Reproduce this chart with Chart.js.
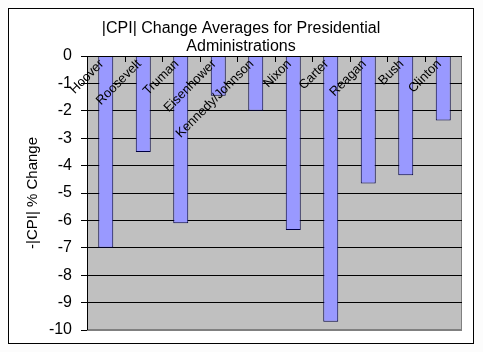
<!DOCTYPE html>
<html lang="en">
<head>
<meta charset="UTF-8">
<title>CPI Change Averages</title>
<script src="https://cdn.jsdelivr.net/npm/chart.js@4/dist/chart.umd.min.js"></script>
<style>
*{margin:0;padding:0;box-sizing:border-box}
body{background:#fcfcfc;width:483px;height:352px;overflow:hidden}
.frame{position:absolute;left:8px;top:8px;width:466px;height:336px;border:1px solid #000;background:#fff}
#c{position:absolute;left:0;top:0}
</style>
</head>
<body>
<div class="frame"></div>
<canvas id="c" width="483" height="352"></canvas>
<script>
// administrations, left to right
var presidents = ["Hoover","Roosevelt","Truman","Eisenhower","Kennedy/Johnson","Nixon","Carter","Reagan","Bush","Clinton"];
// -|CPI| % change averages
var cpiChange = [-7.0,-3.5,-6.1,-1.45,-2.0,-6.35,-9.7,-4.65,-4.35,-2.35];
var yMin = -10, yMax = 0, yStep = 1;
var titleLines = ["|CPI| Change Averages for Presidential","Administrations"];
var yTitle = "-|CPI| % Change";

var FONT = "'Liberation Sans',Arial,sans-serif";

var decor = {
  id: "decor",
  beforeDraw: function(chart){
    var a = chart.chartArea, ctx = chart.ctx;
    ctx.save();
    ctx.fillStyle = "#c0c0c0";
    ctx.fillRect(a.left, a.top, a.right - a.left, a.bottom - a.top);
    ctx.strokeStyle = "#808080";
    ctx.lineWidth = 1;
    ctx.strokeRect(a.left + 0.5, a.top + 0.5, a.right - a.left - 1, a.bottom - a.top - 1);
    ctx.restore();
  },
  afterDatasetsDraw: function(chart){
    var a = chart.chartArea, ctx = chart.ctx, x = chart.scales.x;
    ctx.save();
    // black axis lines: left and the 0 line
    ctx.strokeStyle = "#000";
    ctx.lineWidth = 1;
    ctx.beginPath();
    ctx.moveTo(a.left + 0.5, a.top); ctx.lineTo(a.left + 0.5, a.bottom);
    ctx.moveTo(a.left, a.top + 0.5); ctx.lineTo(a.right, a.top + 0.5);
    // category boundary ticks at the 0 line
    var w = (a.right - a.left) / presidents.length;
    for (var i = 1; i < presidents.length; i++) {
      var bx = Math.round(a.left + i * w) + 0.5;
      ctx.moveTo(bx, a.top); ctx.lineTo(bx, a.top + 6);
    }
    ctx.stroke();
    // rotated category labels inside the plot
    ctx.fillStyle = "#000";
    ctx.font = "13px " + FONT;
    ctx.textAlign = "right";
    ctx.textBaseline = "middle";
    presidents.forEach(function(p, i){
      var px = x.getPixelForValue(i);
      ctx.save();
      ctx.translate(px - 4, a.top + 6);
      ctx.rotate(-Math.PI / 4);
      ctx.fillText(p, 0, 0);
      ctx.restore();
    });
    // title
    ctx.font = "16px " + FONT;
    ctx.textAlign = "center";
    ctx.textBaseline = "middle";
    ctx.fillText(titleLines[0], 241, 29);
    ctx.fillText(titleLines[1], 241, 47);
    // y axis title
    ctx.font = "15px " + FONT;
    ctx.translate(33, 193);
    ctx.rotate(-Math.PI / 2);
    ctx.fillText(yTitle, 0, 0);
    ctx.restore();
  }
};

new Chart(document.getElementById("c"), {
  type: "bar",
  data: {
    labels: presidents,
    datasets: [{
      data: cpiChange,
      backgroundColor: "#9999ff",
      borderColor: "#000040",
      borderWidth: 1,
      barPercentage: 0.4,
      categoryPercentage: 1
    }]
  },
  options: {
    responsive: false,
    animation: false,
    devicePixelRatio: 1,
    layout: { padding: { left: 0, top: 56, right: 21, bottom: 22 } },
    plugins: { legend: { display: false }, title: { display: false }, tooltip: { enabled: false } },
    scales: {
      x: { display: false, offset: true },
      y: {
        min: yMin, max: yMax,
        afterFit: function(s){ s.width = 87; },
        border: { display: false },
        grid: {
          color: function(c){ return c.tick && c.tick.value === yMin ? "#808080" : "#000"; },
          tickColor: "#000",
          tickLength: 6,
          lineWidth: 1
        },
        ticks: {
          stepSize: yStep,
          color: "#000",
          padding: 9,
          font: { family: FONT, size: 16 }
        }
      }
    }
  },
  plugins: [decor]
});
</script>
</body>
</html>
